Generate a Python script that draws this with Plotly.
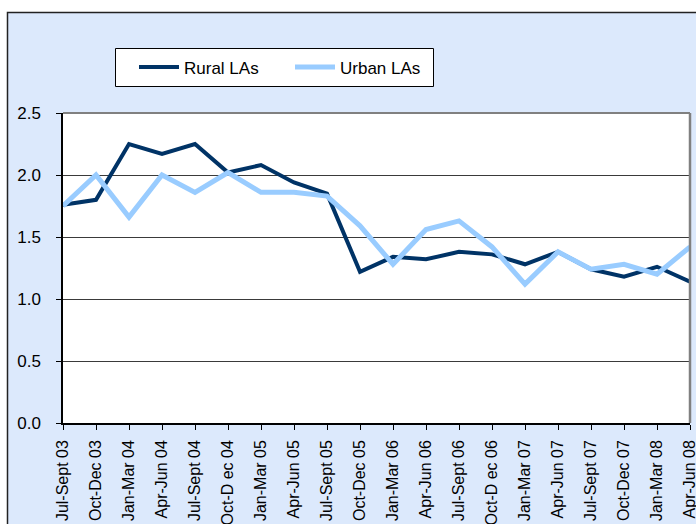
import plotly.graph_objects as go

categories = ["Jul-Sept 03", "Oct-Dec 03", "Jan-Mar 04", "Apr-Jun 04", "Jul-Sept 04",
              "Oct-D ec 04", "Jan-Mar 05", "Apr-Jun 05", "Jul-Sept 05", "Oct-Dec 05",
              "Jan-Mar 06", "Apr-Jun 06", "Jul-Sept 06", "Oct-D ec 06", "Jan-Mar 07",
              "Apr-Jun 07", "Jul-Sept 07", "Oct-Dec 07", "Jan-Mar 08", "Apr-Jun 08"]
rural = [1.76, 1.80, 2.25, 2.17, 2.25, 2.02, 2.08, 1.94, 1.85, 1.22,
         1.34, 1.32, 1.38, 1.36, 1.28, 1.38, 1.24, 1.18, 1.26, 1.14]
urban = [1.75, 2.00, 1.66, 2.00, 1.86, 2.02, 1.86, 1.86, 1.83, 1.59,
         1.28, 1.56, 1.63, 1.42, 1.12, 1.38, 1.24, 1.28, 1.20, 1.42]
y_ticks = [0.0, 0.5, 1.0, 1.5, 2.0, 2.5]

W, H = 696, 524
L, R, T, B = 63, 6, 113, 101
PW, PH = W - L - R, H - T - B

def px(x):
    return (x - L) / PW

def py(y):
    return (H - B - y) / PH

idx = list(range(len(categories)))

fig = go.Figure()
fig.add_trace(go.Scatter(x=idx, y=rural, mode="lines", name="Rural LAs",
                         line=dict(color="#003366", width=4), legend="legend"))
fig.add_trace(go.Scatter(x=idx, y=urban, mode="lines", name="Urban LAs",
                         line=dict(color="#99CCFF", width=5), legend="legend2"))

legfont = dict(family="Liberation Sans, Arial", size=17, color="#000")
shapes = [
    dict(type="rect", xref="paper", yref="paper", x0=px(7.5), x1=px(760), y0=py(12.5), y1=py(600),
         fillcolor="#DCE9FC", line=dict(color="#222", width=1.5), layer="below"),
    dict(type="rect", xref="paper", yref="paper", x0=0, x1=1, y0=0, y1=1,
         fillcolor="#FFFFFF", line=dict(width=0), layer="below"),
    dict(type="line", xref="paper", yref="paper", x0=0, x1=1, y0=1, y1=1,
         line=dict(color="#808080", width=2), layer="above"),
    dict(type="line", xref="paper", yref="paper", x0=1, x1=1, y0=0, y1=1,
         line=dict(color="#808080", width=2.5), layer="above"),
    dict(type="rect", xref="paper", yref="paper", x0=px(115.5), x1=px(433.5), y0=py(86.5), y1=py(48.5),
         fillcolor="#FFFFFF", line=dict(color="#000", width=1), layer="above"),
]

fig.update_layout(
    width=W, height=H,
    margin=dict(l=L, r=R, t=T, b=B, pad=0, autoexpand=False),
    paper_bgcolor="#FFFFFF",
    plot_bgcolor="rgba(0,0,0,0)",
    shapes=shapes,
    showlegend=True,
    legend=dict(x=px(134), y=py(67.5), xanchor="left", yanchor="middle",
                bgcolor="rgba(0,0,0,0)", borderwidth=0, font=legfont,
                itemwidth=40, orientation="h"),
    legend2=dict(x=px(290), y=py(67.5), xanchor="left", yanchor="middle",
                 bgcolor="rgba(0,0,0,0)", borderwidth=0, font=legfont,
                 itemwidth=40, orientation="h"),
    xaxis=dict(range=[0, len(categories) - 1], tickmode="array", tickvals=idx,
               ticktext=categories, tickangle=-90, showgrid=False, zeroline=False,
               showline=True, linecolor="#000", linewidth=1.5, automargin=False,
               ticks="outside", ticklen=5, tickcolor="#000", tickwidth=1,
               tickfont=dict(family="Liberation Sans, Arial", size=16, color="#000"),
               ticklabelstandoff=4, ticklabeloverflow="allow"),
    yaxis=dict(range=[0, 2.5], tickmode="array", tickvals=y_ticks,
               ticktext=[f"{v:.1f}" for v in y_ticks], automargin=False,
               showgrid=True, gridcolor="#3a3a3a", gridwidth=1, zeroline=False,
               showline=True, linecolor="#000", linewidth=1.5,
               ticks="outside", ticklen=5, tickcolor="#000", tickwidth=1,
               tickfont=dict(family="Liberation Sans, Arial", size=17, color="#000"),
               ticklabelstandoff=12),
)

fig.write_html("out.html", config={"displayModeBar": False},
               post_script="document.body.style.margin='0px';")
